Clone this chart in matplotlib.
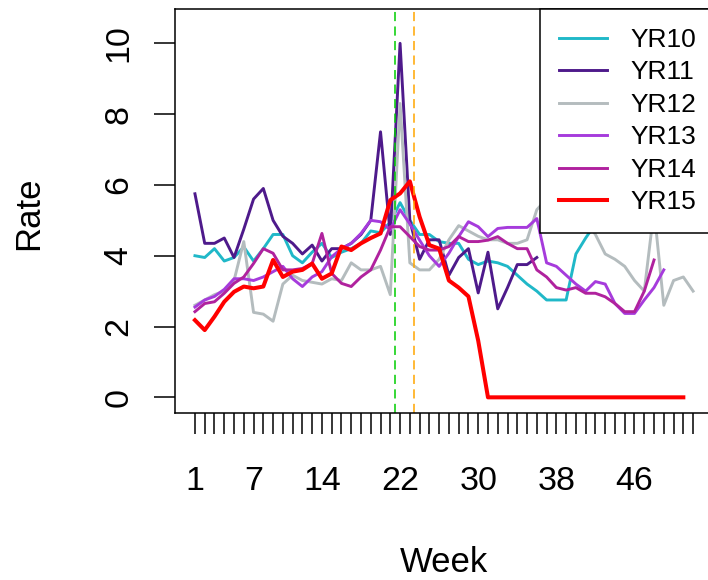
import numpy as np
import matplotlib
matplotlib.use("Agg")
import matplotlib.pyplot as plt

plt.rcParams["font.family"] = ["Liberation Sans", "DejaVu Sans"]

nan = np.nan

# --- DONNEES ---
weeks = list(range(1, 53))
week_labels = {1: "1", 7: "7", 14: "14", 22: "22", 30: "30", 38: "38", 46: "46"}
series_names = ["YR10", "YR11", "YR12", "YR13", "YR14", "YR15"]

yr10 = [4.0, 3.95, 4.2, 3.85, 3.95, 4.25, 3.85, 4.2, 4.6, 4.6,
        4.0, 3.8, 4.1, 4.35, 3.95, 4.1, 4.2, 4.35, 4.7, 4.65,
        4.95, 5.5, 5.0, 4.6, 4.6, 4.4, 4.35, 4.35, 3.9, 3.75,
        3.85, 3.8, 3.7, 3.45, 3.2, 3.0, 2.75, 2.75, 2.75, 4.05,
        4.5, 4.9, 5.1, nan, nan, nan, nan, nan, nan, nan,
        nan, nan]
yr11 = [5.75, 4.35, 4.35, 4.5, 3.95, 4.75, 5.6, 5.9, 5.0, 4.55,
        4.35, 4.05, 4.3, 3.85, 4.2, 4.2, 4.35, 4.6, 5.0, 7.5,
        4.6, 10.0, 5.0, 3.9, 4.45, 4.45, 3.45, 3.95, 4.2, 2.95,
        4.1, 2.5, 3.1, 3.75, 3.75, 3.95, nan, nan, nan, nan,
        nan, nan, nan, nan, nan, nan, nan, nan, nan, nan,
        nan, nan]
yr12 = [2.6, 2.75, 2.9, 3.0, 3.3, 4.4, 2.4, 2.35, 2.15, 3.2,
        3.45, 3.3, 3.25, 3.2, 3.35, 3.3, 3.8, 3.6, 3.6, 3.7,
        2.9, 8.3, 3.8, 3.6, 3.6, 3.9, 4.45, 4.85, 4.7, 4.55,
        4.45, 4.45, 4.35, 4.35, 4.45, 5.3, 5.6, 5.8, 5.6, 5.3,
        5.0, 4.6, 4.05, 3.9, 3.7, 3.3, 3.0, 5.3, 2.6, 3.3,
        3.4, 3.0]
yr13 = [2.55, 2.75, 2.85, 3.05, 3.35, 3.35, 3.3, 3.4, 3.55, 3.7,
        3.35, 3.13, 3.4, 3.55, 3.97, 4.2, 4.35, 4.63, 5.0, 4.96,
        4.73, 5.3, 4.9, 4.44, 4.0, 3.7, 4.07, 4.54, 4.96, 4.82,
        4.54, 4.77, 4.8, 4.8, 4.8, 5.05, 3.8, 3.7, 3.45, 3.2,
        3.0, 3.27, 3.2, 2.65, 2.37, 2.37, 2.75, 3.1, 3.6, nan,
        nan, nan]
yr14 = [2.42, 2.65, 2.7, 2.94, 3.22, 3.4, 3.78, 4.2, 4.07, 3.6,
        3.6, 3.64, 3.78, 4.63, 3.5, 3.22, 3.13, 3.4, 3.6, 4.16,
        4.82, 4.82, 4.54, 4.26, 4.16, 4.16, 4.26, 4.54, 4.4, 4.4,
        4.44, 4.54, 4.35, 4.2, 4.2, 3.6, 3.4, 3.1, 3.03, 3.1,
        2.94, 2.94, 2.84, 2.65, 2.42, 2.42, 3.0, 3.88, nan, nan,
        nan, nan]
yr15 = [2.18, 1.9, 2.28, 2.7, 2.98, 3.13, 3.08, 3.13, 3.88, 3.4,
        3.55, 3.6, 3.78, 3.35, 3.5, 4.26, 4.16, 4.35, 4.5, 4.63,
        5.57, 5.76, 6.1, 5.1, 4.3, 4.2, 3.3, 3.1, 2.85, 1.6,
        0, 0, 0, 0, 0, 0, 0, 0, 0, 0,
        0, 0, 0, 0, 0, 0, 0, 0, 0, 0,
        0, nan]

# semaines marquees par les lignes verticales
vline_green = 21.5
vline_orange = 23.4

couleurs = ["#20B8C8", "#4E1A8B", "#B4BCBE", "#A63BDC", "#B0229E", "#FF0000"]
largeurs = [2.1, 2.1, 2.1, 2.1, 2.1, 2.9]

fig = plt.figure(figsize=(7.08, 5.8), dpi=100)
ax = fig.add_axes([0.2472, 0.2879, 0.7599, 0.6966])

for nom, vals, c, lw in zip(series_names, [yr10, yr11, yr12, yr13, yr14, yr15],
                            couleurs, largeurs):
    ax.plot(weeks, vals, color=c, linewidth=lw, label=nom)

ax.axvline(vline_green, color="#00CD00", linewidth=1.1, linestyle=(0, (6, 3.5)))
ax.axvline(vline_orange, color="#FFA500", linewidth=1.1, linestyle=(0, (6, 3.5)))

ax.set_xlim(1 - 2.04, 52 + 2.04)
ax.set_ylim(-0.443, 10.97)

ax.set_xticks(weeks)
ax.set_xticklabels([week_labels.get(w, "") for w in weeks])
ax.set_yticks([0, 2, 4, 6, 8, 10])
ax.set_yticklabels(["0", "2", "4", "6", "8", "10"], rotation=90,
                   va="center", ha="right")

ax.tick_params(axis="both", direction="out", length=15, width=1.1,
               labelsize=24.5)
ax.tick_params(axis="x", pad=23)
ax.tick_params(axis="y", pad=14)

for sp in ax.spines.values():
    sp.set_linewidth(1.1)
    sp.set_color("black")

ax.set_xlabel("Week", fontsize=25, va="center")
ax.xaxis.set_label_coords(0.5, -0.371)
ax.set_ylabel("Rate", fontsize=25, va="center")
ax.yaxis.set_label_coords(-0.273, 0.495)

# legende opaque dans le coin haut droit (cache les courbes dessous)
leg = ax.legend(loc="upper left", bbox_to_anchor=((540 - 175) / 538, 1.0),
                borderaxespad=0, fontsize=19, frameon=True, fancybox=False,
                framealpha=1, edgecolor="black", facecolor="white",
                borderpad=0.72, labelspacing=0.32, handlelength=1.82,
                handletextpad=0.87)
leg.get_frame().set_linewidth(1.1)

fig.savefig("out.png", dpi=100)
